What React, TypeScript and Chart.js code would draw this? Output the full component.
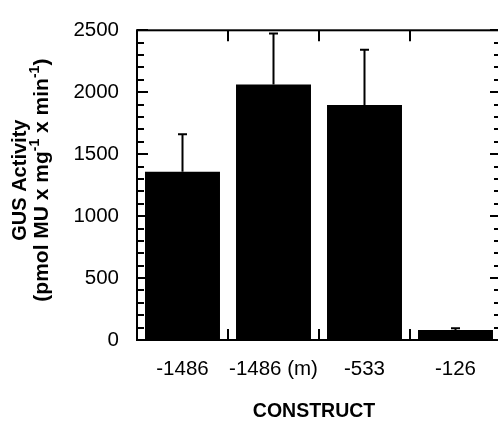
import React, { useEffect, useRef } from 'react';
import { Chart, registerables } from 'chart.js';

Chart.register(...registerables);

const categories: string[] = ['-1486', '-1486 (m)', '-533', '-126'];
const gusActivity: number[] = [1358, 2062, 1898, 80];
const errorUpper: number[] = [1660, 2474, 2344, 95];
const yMajorTicks: number[] = [0, 500, 1000, 1500, 2000, 2500];
const yMin = 0;
const yMax = 2500;
const yMinorStep = 100;
const xTitle = 'CONSTRUCT';
const yTitleLine1 = 'GUS Activity';
const yTitleLine2: { t: string; sup: boolean }[] = [
  { t: '(pmol MU x mg', sup: false },
  { t: '-1', sup: true },
  { t: ' x min', sup: false },
  { t: '-1', sup: true },
  { t: ')', sup: false },
];

const FONT = "'Liberation Sans', Arial, Helvetica, sans-serif";

const decor = {
  id: 'decor',
  afterDatasetsDraw(chart: any) {
    const { ctx, chartArea: a, scales } = chart;
    const x = scales.x;
    const y = scales.y;
    const meta = chart.getDatasetMeta(0);
    ctx.save();
    ctx.strokeStyle = '#000';
    ctx.lineWidth = 2;
    ctx.lineCap = 'butt';
    // error bars (upper only)
    meta.data.forEach((bar: any, i: number) => {
      const px = x.getPixelForValue(i);
      const yTop = y.getPixelForValue(errorUpper[i]);
      ctx.beginPath();
      ctx.moveTo(px, bar.y);
      ctx.lineTo(px, yTop);
      ctx.moveTo(px - 4.5, yTop);
      ctx.lineTo(px + 4.5, yTop);
      ctx.stroke();
    });
    // frame
    ctx.strokeRect(a.left, a.top, a.right - a.left, a.bottom - a.top);
    // y ticks inward on both sides
    ctx.beginPath();
    for (let v = yMin; v <= yMax; v += yMinorStep) {
      const py = Math.round(y.getPixelForValue(v));
      const len = yMajorTicks.includes(v) ? 11 : 7;
      ctx.moveTo(a.left, py);
      ctx.lineTo(a.left + len, py);
      ctx.moveTo(a.right, py);
      ctx.lineTo(a.right - len, py);
    }
    // category boundary ticks top and bottom
    for (let i = 0; i < categories.length - 1; i++) {
      const px = Math.round((x.getPixelForValue(i) + x.getPixelForValue(i + 1)) / 2);
      ctx.moveTo(px, a.top);
      ctx.lineTo(px, a.top + 11);
      ctx.moveTo(px, a.bottom);
      ctx.lineTo(px, a.bottom - 11);
    }
    ctx.stroke();
    ctx.restore();
  },
  afterDraw(chart: any) {
    const { ctx, chartArea: a } = chart;
    ctx.save();
    ctx.fillStyle = '#000';
    // x title
    ctx.font = `bold 19.5px ${FONT}`;
    ctx.textAlign = 'center';
    ctx.textBaseline = 'middle';
    ctx.fillText(xTitle, (a.left + a.right) / 2 - 5, 411.5);
    // y title, rotated
    const cy = (a.top + a.bottom) / 2 - 5;
    ctx.save();
    ctx.translate(20, cy);
    ctx.rotate(-Math.PI / 2);
    ctx.font = `bold 20px ${FONT}`;
    ctx.textAlign = 'center';
    ctx.fillText(yTitleLine1, 0, 0);
    ctx.restore();

    ctx.save();
    ctx.translate(42.5, cy);
    ctx.rotate(-Math.PI / 2);
    ctx.textAlign = 'left';
    ctx.textBaseline = 'middle';
    const mainFont = `bold 21px ${FONT}`;
    const supFont = `bold 14px ${FONT}`;
    let total = 0;
    yTitleLine2.forEach((s) => {
      ctx.font = s.sup ? supFont : mainFont;
      total += ctx.measureText(s.t).width;
    });
    let cx = -total / 2;
    yTitleLine2.forEach((s) => {
      ctx.font = s.sup ? supFont : mainFont;
      ctx.fillText(s.t, cx, s.sup ? -7 : 0);
      cx += ctx.measureText(s.t).width;
    });
    ctx.restore();
    ctx.restore();
  },
};

export default function App() {
  const ref = useRef<HTMLCanvasElement | null>(null);
  useEffect(() => {
    document.body.style.margin = '0';
    const canvas = ref.current;
    if (!canvas) return;
    Chart.defaults.font.family = FONT;
    const chart = new Chart(canvas, {
      type: 'bar',
      data: {
        labels: categories,
        datasets: [
          {
            data: gusActivity,
            backgroundColor: '#000',
            borderWidth: 0,
            categoryPercentage: 1,
            barPercentage: 0.824,
          },
        ],
      },
      options: {
        animation: false,
        responsive: false,
        maintainAspectRatio: false,
        devicePixelRatio: 1,
        layout: { padding: { top: 20, right: 3, left: 0, bottom: 0 } },
        plugins: {
          legend: { display: false },
          tooltip: { enabled: false },
        },
        scales: {
          x: {
            grid: { display: false, drawTicks: false },
            border: { display: false },
            ticks: {
              color: '#000',
              font: { size: 20.5, family: FONT },
              padding: 17,
              maxRotation: 0,
              autoSkip: false,
            },
            afterFit: (s: any) => {
              s.height = 81;
            },
          },
          y: {
            min: yMin,
            max: yMax,
            grid: { display: false, drawTicks: false },
            border: { display: false },
            ticks: {
              stepSize: 500,
              color: '#000',
              font: { size: 20.5, family: FONT },
              padding: 18,
              callback: (v: any) => String(v),
            },
            afterFit: (s: any) => {
              s.width = 137;
            },
          },
        },
      },
      plugins: [decor],
    } as any);
    return () => chart.destroy();
  }, []);
  return (
    <div style={{ position: 'fixed', left: 0, top: 0, width: 498, height: 421, overflow: 'hidden', background: '#fff' }}>
      <canvas ref={ref} width={504} height={421} style={{ width: 504, height: 421, display: 'block' }} />
    </div>
  );
}
